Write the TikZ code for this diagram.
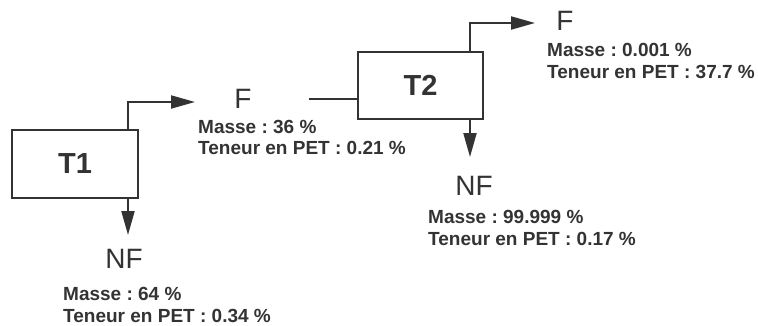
\documentclass[tikz,border=0pt]{standalone}
\usepackage{fontspec}
\setmainfont{Liberation Sans}
\usetikzlibrary{arrows.meta}
\definecolor{ink}{HTML}{333333}
\frenchspacing
\begin{document}
\begin{tikzpicture}[x=1pt,y=-1pt,
  box/.style={draw=ink,line width=2pt,minimum width=126pt,minimum height=68pt,inner sep=0pt,
    font=\fontsize{29}{30}\selectfont\bfseries,text=ink},
  flow/.style={draw=ink,line width=2pt,-{Triangle[length=24pt,width=13pt]}},
  feed/.style={draw=ink,line width=2pt},
  big/.style={font=\fontsize{28}{30}\selectfont,text=ink,inner sep=0pt,anchor=base},
  info/.style={font=\fontsize{19}{21}\selectfont\bfseries\frenchspacing,text=ink,inner sep=0pt,anchor=base west}]
\useasboundingbox (0,0) rectangle (758,325);
% boxes
\node[box] (t1) at (75,164) {T1};
\node[box,minimum width=125pt,minimum height=67pt] (t2) at (420.5,85.5) {T2};
% labels
\node[big] (f1) at (243,108) {F};
\node[big] (nf1) at (124,268) {NF};
\node[big] (f2) at (565,30) {F};
\node[big] (nf2) at (474,195) {NF};
\node[info] (m1) at (198,133) {Masse : 36 \%};
\node[info] (p1) at (198,154) {Teneur en PET : 0.21 \%};
\node[info] (m2) at (63,300) {Masse : 64 \%};
\node[info] (p2) at (63,322) {Teneur en PET : 0.34 \%};
\node[info] (m3) at (547,56) {Masse : 0.001 \%};
\node[info] (p3) at (547,78) {Teneur en PET : 37.7 \%};
\node[info] (m4) at (428,223) {Masse : 99.999 \%};
\node[info] (p4) at (428,245) {Teneur en PET : 0.17 \%};
% connector end points
\coordinate (f1tip) at (195,102);
\coordinate (nf1tip) at (128,235);
\coordinate (f2tip) at (535,23);
\coordinate (nf2tip) at (470,157);
\coordinate (in2) at (309,99);
% connectors
\draw[flow] (t1.north -| nf1tip) |- (f1tip);
\draw[flow] (t1.south -| nf1tip) -- (nf1tip);
\draw[feed] (in2) -- (in2 -| t2.west);
\draw[flow] (t2.north -| nf2tip) |- (f2tip);
\draw[flow] (t2.south -| nf2tip) -- (nf2tip);
\end{tikzpicture}
\end{document}
